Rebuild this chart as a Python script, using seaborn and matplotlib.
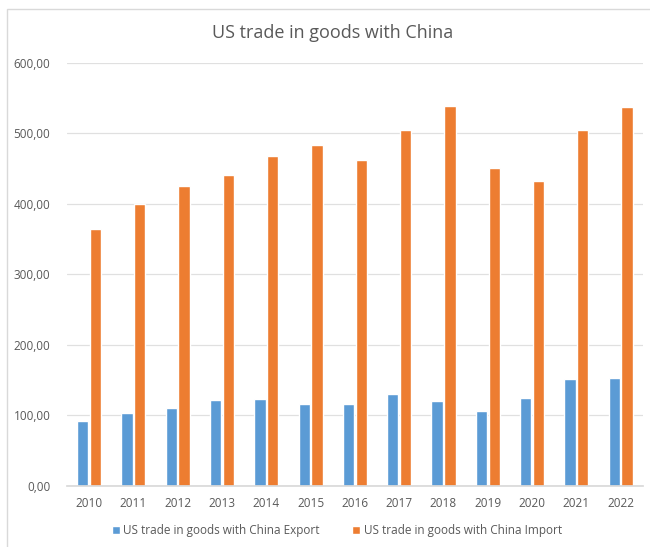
import numpy as np
import pandas as pd
import matplotlib
matplotlib.use('Agg')
import matplotlib.pyplot as plt
import seaborn as sns
from matplotlib.patches import Rectangle
from matplotlib.ticker import FuncFormatter

years = ['2010', '2011', '2012', '2013', '2014', '2015', '2016',
         '2017', '2018', '2019', '2020', '2021', '2022']
export = [91.9, 104.1, 110.5, 121.7, 123.7, 115.9, 115.6,
          129.8, 120.1, 106.4, 124.5, 151.1, 153.8]
imports = [365.0, 399.4, 425.6, 440.4, 468.5, 483.2, 462.4,
           505.2, 538.5, 450.4, 432.5, 504.9, 536.8]
series = ['US trade in goods with China Export', 'US trade in goods with China Import']

df = pd.DataFrame({
    'year': years * 2,
    'value': export + imports,
    'series': [series[0]] * len(years) + [series[1]] * len(years),
})

sns.set_theme(style='white')
plt.rcParams['font.family'] = ['Open Sans', 'DejaVu Sans']

fig = plt.figure(figsize=(6.5, 5.47), dpi=100)
ax = fig.add_axes([0.103, 0.1115, 0.886, 0.7735])

sns.barplot(data=df, x='year', y='value', hue='series', ax=ax,
            palette=['#5B9BD5', '#ED7D31'], width=0.58, gap=0.12,
            saturation=1, legend=True)

ax.set_ylim(0, 600)
ax.set_xlim(-0.5, 12.5)
ax.set_yticks(np.arange(0, 601, 100))
ax.yaxis.set_major_formatter(FuncFormatter(lambda v, p: f'{v:.2f}'.replace('.', ',')))
ax.grid(axis='y', color='#e0e0e0', linewidth=0.9)
ax.set_axisbelow(True)
for s in ['top', 'right', 'left']:
    ax.spines[s].set_visible(False)
ax.spines['bottom'].set_color('#d9d9d9')
ax.tick_params(axis='both', length=0, colors='#595959', labelsize=8.5)
ax.tick_params(axis='x', pad=8)
ax.tick_params(axis='y', pad=12)
ax.set_xlabel('')
ax.set_ylabel('')

handles, labels = ax.get_legend_handles_labels()
ax.get_legend().remove()
leg = fig.legend(handles, labels, loc='center', bbox_to_anchor=(0.518, 0.03), ncol=2,
                 frameon=False, fontsize=8.5, handlelength=0.7, handleheight=0.7,
                 handletextpad=0.3, columnspacing=2.7)
for t in leg.get_texts():
    t.set_color('#595959')

fig.text(0.512, 0.94, 'US trade in goods with China', ha='center', va='center',
         fontsize=13, color='#595959')

fig.patches.append(Rectangle((7 / 650, -0.02), 1.0, 1 - 9 / 547 + 0.02,
                             transform=fig.transFigure, fill=False,
                             edgecolor='#d9d9d9', linewidth=1))

fig.savefig('out.png', dpi=100)
